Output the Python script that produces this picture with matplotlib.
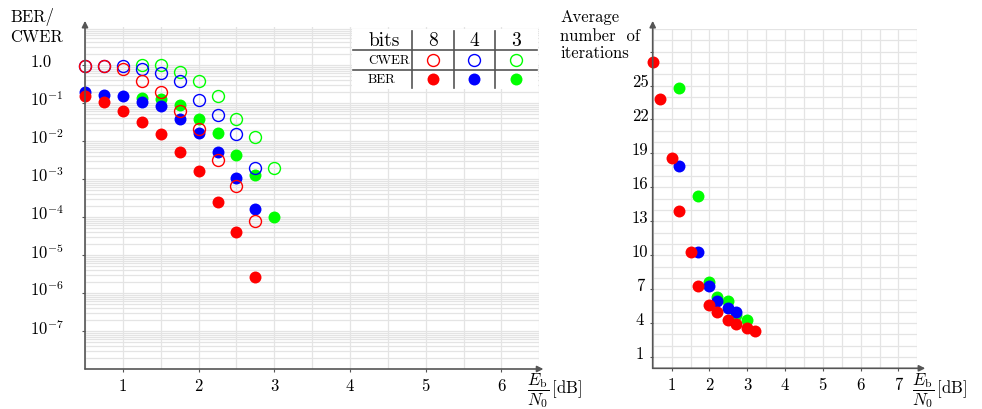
import matplotlib
matplotlib.use("Agg")
import matplotlib.pyplot as plt
import matplotlib.transforms as mtransforms
from matplotlib.ticker import FixedLocator, MultipleLocator, LogLocator, NullFormatter

# latex-ish look
plt.rcParams['font.family'] = ['cmr10', 'DejaVu Serif']
plt.rcParams['mathtext.fontset'] = 'cm'
plt.rcParams['axes.unicode_minus'] = False

# ---- data: error rates (left plot) ----
snr_8 = [0.5, 0.75, 1.0, 1.25, 1.5, 1.75, 2.0, 2.25, 2.5, 2.75]
snr_4 = [0.5, 0.75, 1.0, 1.25, 1.5, 1.75, 2.0, 2.25, 2.5, 2.75]
snr_3 = [1.25, 1.5, 1.75, 2.0, 2.25, 2.5, 2.75, 3.0]

cwer_8 = [0.96, 0.96, 0.8, 0.39, 0.2, 0.06, 0.021, 0.0032, 6.4e-4, 8e-5]
cwer_4 = [0.96, 0.96, 0.96, 0.8, 0.62, 0.39, 0.12, 0.049, 0.015, 0.002]
cwer_3 = [1.0, 0.98, 0.64, 0.39, 0.155, 0.039, 0.013, 0.0019]

ber_8 = [0.155, 0.104, 0.063, 0.032, 0.0155, 0.005, 0.00158, 2.5e-4, 4.1e-5, 2.7e-6]
ber_4 = [0.2, 0.16, 0.155, 0.104, 0.082, 0.039, 0.016, 0.005, 0.00106, 1.66e-4]
ber_3 = [0.135, 0.127, 0.087, 0.039, 0.016, 0.0042, 0.0013, 1.0e-4]

# ---- data: average number of iterations (right plot) ----
it_snr_8 = [0.5, 0.7, 1.0, 1.2, 1.5, 1.7, 2.0, 2.2, 2.5, 2.7, 3.0, 3.2]
it_8 = [27.1, 23.8, 18.55, 13.9, 10.24, 7.27, 5.6, 4.99, 4.29, 3.91, 3.56, 3.27]
it_snr_4 = [1.2, 1.7, 2.0, 2.2, 2.5, 2.7]
it_4 = [17.85, 10.24, 7.27, 5.95, 5.29, 4.99]
it_snr_3 = [1.2, 1.7, 2.0, 2.2, 2.5, 2.7, 3.0]
it_3 = [24.76, 15.2, 7.65, 6.34, 5.95, 4.7, 4.29]

bits = ["8", "4", "3"]
colors = ["#ff0000", "#0000ff", "#00ff00"]

ber_yticks = [1e0, 1e-1, 1e-2, 1e-3, 1e-4, 1e-5, 1e-6, 1e-7]
ber_ylabels = ["1.0", r"$10^{-1}$", r"$10^{-2}$", r"$10^{-3}$", r"$10^{-4}$",
               r"$10^{-5}$", r"$10^{-6}$", r"$10^{-7}$"]
it_yticks = [1, 4, 7, 10, 13, 16, 19, 22, 25, 28]
it_ylabels = ["1", "4", "7", "10", "13", "16", "19", "22", "25", ""]

AXIS_COLOR = "#555555"
GRID_COLOR = "#e4e4e4"
FS = 12
MS = 8.6
XLABEL = r"$\dfrac{E_\mathrm{b}}{N_0}\,[\mathrm{dB}]$"


def style_axes(fig, ax, tip_x, tip_y):
    """hides the box, draws the two axis arrows and the light grid"""
    for side in ["top", "right", "left", "bottom"]:
        ax.spines[side].set_visible(False)
    arrow = dict(arrowstyle="-|>", color=AXIS_COLOR, lw=1.2,
                 shrinkA=0, shrinkB=0, mutation_scale=9)
    ax.annotate("", xy=(0, tip_y), xytext=(0, 0), xycoords="axes fraction",
                arrowprops=arrow, annotation_clip=False)
    ax.annotate("", xy=(tip_x, 0), xytext=(0, 0), xycoords="axes fraction",
                arrowprops=arrow, annotation_clip=False)
    ax.grid(True, which="both", color=GRID_COLOR, lw=0.9)
    ax.set_axisbelow(True)
    ax.tick_params(which="major", direction="out", length=2.5, width=0.8,
                   color=AXIS_COLOR, labelsize=FS)
    ax.tick_params(which="minor", length=0)

    # pgfplots puts the y labels a bit higher than the tick
    shift = mtransforms.ScaledTranslation(0, 4 / 72, fig.dpi_scale_trans)
    for label in ax.get_yticklabels():
        label.set_transform(label.get_transform() + shift)


def error_plot(fig):
    ax = fig.add_axes([85 / 982, 40 / 410, 454.3 / 982, 342 / 410])
    ax.set_yscale("log")
    ax.set_xlim(0.5, 6.5)
    ax.set_ylim(1e-8, 1e1)

    # green first so that blue and red sit on top of it
    for i in [2, 1, 0]:
        snr = [snr_8, snr_4, snr_3][i]
        cwer = [cwer_8, cwer_4, cwer_3][i]
        ber = [ber_8, ber_4, ber_3][i]
        ax.plot(snr, cwer, "o", ms=MS, mfc="none", mec=colors[i], mew=1.0,
                clip_on=False, zorder=3)
        ax.plot(snr, ber, "o", ms=MS, color=colors[i], mew=0,
                clip_on=False, zorder=3)

    ax.xaxis.set_major_locator(FixedLocator([1, 2, 3, 4, 5, 6]))
    ax.xaxis.set_minor_locator(MultipleLocator(0.5))
    ax.yaxis.set_major_locator(FixedLocator(ber_yticks))
    ax.set_yticklabels(ber_ylabels)
    ax.yaxis.set_minor_locator(LogLocator(subs=range(2, 10), numticks=30))
    ax.yaxis.set_minor_formatter(NullFormatter())
    ax.tick_params(axis="y", pad=37)
    for label in ax.get_yticklabels():
        label.set_horizontalalignment("left")
    style_axes(fig, ax, 1.009, 1.018)

    fig.text(10 / 982, 1 - 17 / 410, "BER/", fontsize=FS, va="center")
    fig.text(10 / 982, 1 - 37 / 410, "CWER", fontsize=FS, va="center")
    fig.text(527 / 982, 1 - 391 / 410, XLABEL, fontsize=FS, va="center")


def bits_table(fig):
    """small legend table in the upper right corner of the left plot"""
    tax = fig.add_axes([352 / 982, 1 - 90 / 410, 186 / 982, 60 / 410])
    tax.set_xlim(352, 538)
    tax.set_ylim(90, 30)
    tax.axis("off")
    tax.add_patch(plt.Rectangle((352, 30), 186, 60, color="white", zorder=0))

    for x in [412, 454, 495]:
        tax.plot([x, x], [32, 89], color=AXIS_COLOR, lw=1.2)
    for y in [51, 70.5]:
        tax.plot([352.5, 537], [y, y], color=AXIS_COLOR, lw=1.2)

    tax.text(384, 41, "bits", fontsize=14, ha="center", va="center")
    tax.text(368, 61, "CWER", fontsize=9.5, ha="left", va="center")
    tax.text(368, 80, "BER", fontsize=9.5, ha="left", va="center")
    cols = [433, 474, 516]
    for i in range(3):
        tax.text(cols[i], 41, bits[i], fontsize=14, ha="center", va="center")
        tax.plot(cols[i], 61, "o", ms=MS, mfc="none", mec=colors[i], mew=1.0)
        tax.plot(cols[i], 80, "o", ms=MS, color=colors[i], mew=0)


def iteration_plot(fig):
    ax = fig.add_axes([652.7 / 982, 40.7 / 410, 264.6 / 982, 339.3 / 410])
    ax.set_xlim(0.5, 7.5)
    ax.set_ylim(0, 30)

    ax.plot(it_snr_3, it_3, "o", ms=MS, color=colors[2], mew=0, clip_on=False, zorder=3)
    ax.plot(it_snr_4, it_4, "o", ms=MS, color=colors[1], mew=0, clip_on=False, zorder=3)
    ax.plot(it_snr_8, it_8, "o", ms=MS, color=colors[0], mew=0, clip_on=False, zorder=3)

    ax.xaxis.set_major_locator(FixedLocator([1, 2, 3, 4, 5, 6, 7]))
    ax.xaxis.set_minor_locator(MultipleLocator(0.5))
    ax.yaxis.set_major_locator(FixedLocator(it_yticks))
    ax.set_yticklabels(it_ylabels)
    ax.yaxis.set_minor_locator(MultipleLocator(1))
    ax.tick_params(axis="y", pad=6.6)
    for label in ax.get_yticklabels():
        label.set_horizontalalignment("center")
    style_axes(fig, ax, 1.03, 1.024)

    fig.text(560 / 982, 1 - 17 / 410, "Average", fontsize=FS, va="center")
    fig.text(560 / 982, 1 - 36 / 410, "number  of", fontsize=FS, va="center")
    fig.text(560 / 982, 1 - 53 / 410, "iterations", fontsize=FS, va="center")
    fig.text(912 / 982, 1 - 391 / 410, XLABEL, fontsize=FS, va="center")


def main():
    fig = plt.figure(figsize=(9.82, 4.10), dpi=100)
    error_plot(fig)
    bits_table(fig)
    iteration_plot(fig)
    fig.savefig("out.png", dpi=100)
    plt.close(fig)


if __name__ == '__main__':
    main()
